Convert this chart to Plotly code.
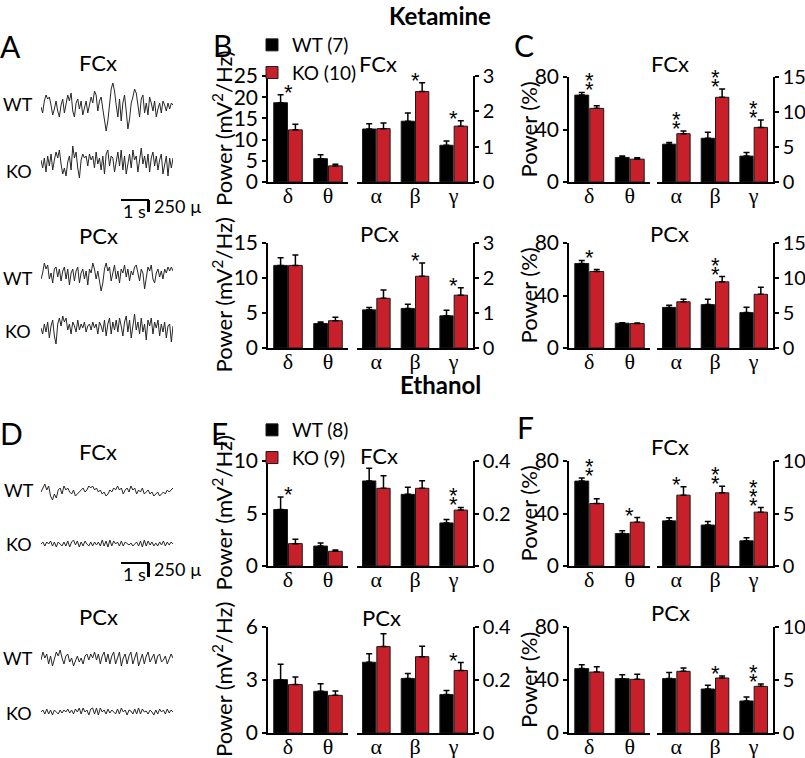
import plotly.graph_objects as go

WIN_W, WIN_H = 805, 758
FW, FH = WIN_W, WIN_H
FONT = "Lato"
RED = "#c8202a"

bands_left = ["δ", "θ"]
bands_right = ["α", "β", "γ"]

# ---------------- bar data: [δ, θ, α, β, γ] ----------------
# Ketamine FCx absolute power (B, top)
ket_fcx_abs_wt = [18.7, 5.5, 1.50, 1.72, 1.04]
ket_fcx_abs_wt_err = [1.9, 0.9, 0.15, 0.23, 0.12]
ket_fcx_abs_ko = [12.3, 3.8, 1.51, 2.56, 1.58]
ket_fcx_abs_ko_err = [1.3, 0.4, 0.16, 0.25, 0.15]
ket_fcx_abs_stars = ["*", "", "", "*", "*"]

# Ketamine PCx absolute power (B, bottom)
ket_pcx_abs_wt = [11.8, 3.5, 1.09, 1.13, 0.92]
ket_pcx_abs_wt_err = [1.1, 0.2, 0.07, 0.12, 0.16]
ket_pcx_abs_ko = [11.8, 3.9, 1.42, 2.05, 1.51]
ket_pcx_abs_ko_err = [1.5, 0.5, 0.24, 0.38, 0.21]
ket_pcx_abs_stars = ["", "", "", "*", "*"]

# Ketamine FCx relative power (C, top)
ket_fcx_rel_wt = [66.2, 18.7, 5.4, 6.25, 3.7]
ket_fcx_rel_wt_err = [2.0, 1.2, 0.25, 0.85, 0.5]
ket_fcx_rel_ko = [56.1, 17.4, 6.9, 12.1, 7.8]
ket_fcx_rel_ko_err = [2.0, 1.0, 0.4, 1.2, 1.05]
ket_fcx_rel_stars = ["**", "", "**", "**", "**"]

# Ketamine PCx relative power (C, bottom)
ket_pcx_rel_wt = [64.4, 18.9, 5.8, 6.2, 5.06]
ket_pcx_rel_wt_err = [2.3, 0.3, 0.3, 0.75, 0.75]
ket_pcx_rel_ko = [58.3, 18.7, 6.6, 9.45, 7.67]
ket_pcx_rel_ko_err = [1.5, 0.3, 0.35, 0.75, 1.0]
ket_pcx_rel_stars = ["*", "", "", "**", ""]

# Ethanol FCx absolute power (E, top)
eth_fcx_abs_wt = [5.38, 1.9, 0.324, 0.273, 0.164]
eth_fcx_abs_wt_err = [1.2, 0.3, 0.048, 0.027, 0.013]
eth_fcx_abs_ko = [2.13, 1.4, 0.296, 0.296, 0.213]
eth_fcx_abs_ko_err = [0.42, 0.13, 0.048, 0.029, 0.01]
eth_fcx_abs_stars = ["*", "", "", "", "**"]

# Ethanol PCx absolute power (E, bottom)
eth_pcx_abs_wt = [3.02, 2.36, 0.267, 0.206, 0.145]
eth_pcx_abs_wt_err = [0.87, 0.43, 0.032, 0.019, 0.015]
eth_pcx_abs_ko = [2.74, 2.13, 0.326, 0.288, 0.236]
eth_pcx_abs_ko_err = [0.43, 0.25, 0.049, 0.039, 0.03]
eth_pcx_abs_stars = ["", "", "", "", "*"]

# Ethanol FCx relative power (F, top)
eth_fcx_rel_wt = [64.7, 24.7, 4.3, 3.9, 2.4]
eth_fcx_rel_wt_err = [2.3, 2.1, 0.3, 0.35, 0.3]
eth_fcx_rel_ko = [47.6, 33.4, 6.75, 6.97, 5.13]
eth_fcx_rel_ko_err = [3.6, 3.5, 0.8, 0.63, 0.44]
eth_fcx_rel_stars = ["**", "*", "*", "**", "***"]

# Ethanol PCx relative power (F, bottom)
eth_pcx_rel_wt = [48.6, 41.0, 5.13, 4.15, 3.02]
eth_pcx_rel_wt_err = [3.0, 3.0, 0.57, 0.35, 0.38]
eth_pcx_rel_ko = [46.0, 40.5, 5.82, 5.19, 4.4]
eth_pcx_rel_ko_err = [4.0, 3.8, 0.31, 0.19, 0.22]
eth_pcx_rel_stars = ["", "", "", "*", "**"]

# ---------------- EEG trace samples (arbitrary units) ----------------
wt_fcx_ket = [0.0, -0.3, 0.3, 0.6, 0.4, 0.5, 0.1, -0.4, -0.1, 0.3,
              -0.2, -0.5, 0.1, 0.4, -0.3, 0.2, 0.6, 0.3, 0.7, -0.2,
              -0.5, 0.2, 0.4, -0.1, 0.3, -0.4, 0.0, 0.3, -0.3, 0.1,
              0.5, 0.2, 0.8, 0.6, -0.2, 0.3, 0.5, -0.1, -0.6, -1.2,
              -0.7, 0.2, 0.9, 1.2, 0.8, 0.1, -0.5, 0.4, -0.7, 0.2,
              0.6, -0.2, -1.1, -0.6, 0.2, 0.5, 0.9, 0.7, 0.1, -0.5,
              0.4, 0.6, -0.3, 0.2, -0.4, 0.5, 0.2, -0.2, 0.3, -0.5,
              -0.1, 0.2, -0.3, 0.3, 0.1, -0.2, 0.2, -0.1, 0.2, 0.1]
ko_fcx_ket = [0.1, -0.3, 0.2, -0.5, 0.3, -0.2, 0.4, -0.4, 0.1, 0.5,
              0.2, 0.6, -0.1, -0.6, -0.3, -0.7, 0.0, 0.3, -0.4, 0.8,
              0.2, 0.5, -0.3, -0.8, 0.1, 0.4, 0.2, 0.3, -0.2, 0.4,
              0.1, 0.3, -0.3, 0.5, -0.1, 0.2, -0.4, 0.3, -0.6, 0.4,
              0.6, -0.2, 0.3, 0.2, -0.5, 0.1, 0.5, -0.2, 0.6, -0.4,
              0.3, -0.6, 0.0, 0.4, -0.3, 0.6, 0.1, 0.3, -0.5, 0.2,
              0.7, -0.1, 0.3, -0.3, 0.4, -0.5, 0.2, 0.5, -0.2, 0.3,
              -0.4, 0.1, 0.4, -0.6, -0.2, 0.3, -0.7, 0.2, -0.3, 0.2]
wt_pcx_ket = [-0.2, 0.1, 0.6, 0.3, 0.5, -0.2, 0.1, -0.4, 0.3, 0.4,
              -0.1, 0.3, -0.3, 0.2, 0.4, -0.2, 0.3, -0.5, 0.1, 0.3,
              -0.3, 0.2, 0.4, -0.4, 0.1, 0.3, -0.2, 0.2, -0.5, 0.3,
              0.1, 0.6, 0.3, -0.2, 0.2, -0.3, -0.8, -0.4, 0.3, 0.6,
              0.2, 0.4, -0.3, 0.1, 0.5, -0.2, 0.2, -0.4, 0.3, 0.1,
              0.5, -0.1, 0.3, -0.3, 0.2, 0.0, 0.4, 0.5, 0.1, -0.3,
              0.3, 0.1, -0.7, -0.2, 0.4, 0.2, 0.5, -0.2, -0.4, 0.1,
              0.3, -0.1, 0.2, -0.2, 0.3, 0.1, 0.4, 0.2, 0.4, 0.2]
ko_pcx_ket = [0.0, -0.3, 0.2, -0.2, 0.3, -0.5, 0.1, 0.4, -0.4, -0.8,
              0.2, 0.5, 0.1, 0.6, 0.3, 0.5, -0.1, 0.2, -0.3, 0.3,
              0.1, -0.2, 0.4, -0.1, 0.2, 0.0, 0.3, -0.2, 0.1, 0.2,
              -0.1, 0.3, 0.0, 0.2, -0.3, 0.3, 0.1, -0.2, 0.4, -0.4,
              0.2, 0.5, -0.3, 0.3, -0.1, 0.4, -0.2, 0.5, 0.1, -0.4,
              0.3, 0.6, -0.2, 0.4, -0.5, 0.2, 0.7, -0.1, 0.3, -0.3,
              0.5, -0.2, 0.2, -0.6, 0.4, 0.1, 0.5, -0.3, 0.3, 0.0,
              0.4, -0.4, 0.2, -0.2, 0.3, -0.5, 0.1, 0.2, -0.7, 0.1]
wt_fcx_eth = [0.0, 0.2, 0.4, 0.1, 0.3, -0.2, -0.4, -0.1, -0.3, 0.1,
              0.2, -0.1, 0.3, 0.1, 0.2, 0.0, -0.1, 0.1, -0.2, -0.1,
              0.0, 0.1, 0.2, 0.0, 0.1, 0.3, 0.2, 0.3, 0.1, 0.2,
              0.0, 0.1, -0.1, 0.0, -0.2, -0.1, 0.1, 0.0, 0.2, 0.1,
              0.3, 0.1, 0.2, -0.1, 0.1, 0.2, 0.0, 0.3, 0.1, 0.2,
              -0.1, 0.1, 0.0, 0.2, -0.1, 0.0, 0.1, -0.1, 0.0, -0.2,
              -0.1, 0.0, -0.2, -0.1, 0.0, -0.1, 0.1, 0.0, 0.1, 0.2]
ko_fcx_eth = [0.0, 0.1, -0.1, 0.1, 0.0, 0.15, -0.1, 0.1, -0.15, 0.1,
              0.0, -0.1, 0.1, -0.1, 0.15, -0.15, 0.1, 0.2, -0.05, 0.15,
              -0.15, 0.1, -0.1, 0.15, 0.0, -0.1, 0.1, -0.1, 0.1, -0.05,
              0.1, -0.1, 0.2, -0.1, 0.15, -0.15, 0.2, -0.1, 0.15, 0.0,
              0.1, -0.1, 0.15, -0.1, 0.1, 0.0, -0.05, 0.05, -0.1, 0.0,
              0.1, -0.1, 0.15, -0.15, 0.2, -0.1, 0.15, -0.05, 0.1, -0.1,
              0.05, -0.1, 0.1, -0.05, 0.15, -0.1, 0.1, -0.05, 0.1, 0.0]
wt_pcx_eth = [0.0, 0.4, 0.1, 0.3, -0.2, 0.2, -0.3, 0.1, 0.4, 0.2,
              0.5, 0.1, -0.2, 0.2, 0.3, -0.1, 0.1, -0.3, 0.0, 0.2,
              -0.1, 0.1, -0.2, 0.2, 0.3, 0.0, 0.3, 0.1, 0.4, 0.0,
              0.3, -0.2, 0.2, 0.4, -0.1, 0.3, -0.2, 0.2, 0.4, -0.2,
              0.1, 0.4, -0.3, 0.1, 0.3, -0.2, 0.2, 0.4, -0.2, 0.1,
              0.4, -0.3, 0.0, 0.3, -0.2, 0.2, 0.4, -0.1, 0.1, 0.3,
              -0.2, 0.2, 0.3, -0.1, 0.0, 0.2, -0.2, 0.1, 0.3, 0.1]
ko_pcx_eth = [0.0, 0.1, -0.1, 0.15, -0.1, 0.1, -0.15, 0.1, 0.0, -0.1,
              0.1, -0.05, 0.1, 0.0, 0.15, -0.05, 0.1, -0.1, 0.15, 0.0,
              0.2, -0.1, 0.2, 0.0, 0.1, -0.15, 0.15, 0.2, -0.1, 0.2,
              -0.15, 0.2, 0.0, 0.1, -0.1, 0.15, -0.05, 0.1, 0.0, -0.1,
              0.15, -0.1, 0.2, 0.0, 0.1, -0.15, 0.1, 0.05, -0.1, 0.15,
              -0.1, 0.2, -0.1, 0.15, 0.0, 0.05, -0.1, 0.1, 0.0, -0.15,
              0.1, -0.1, 0.15, 0.0, 0.1, -0.1, 0.15, -0.05, 0.1, 0.0]


def px(x):
    return x / FW


def py(y):
    return 1 - y / FH


fig = go.Figure()
layout = {}
annotations = []
shapes = []
axis_counter = [0]


def new_axes():
    axis_counter[0] += 1
    i = axis_counter[0]
    return i, ("" if i == 1 else str(i))


def txt(x, y, t, size=18, bold=False, xanchor="center", family=FONT, angle=0):
    annotations.append(dict(x=px(x), y=py(y), xref="paper", yref="paper", text=t,
                            showarrow=False, xanchor=xanchor, yanchor="middle",
                            textangle=angle,
                            font=dict(family=family, size=size, color="black",
                                      weight="bold" if bold else "normal")))


def add_bar_panel(x0, x1, x2, x3, ytop, ybot, lrange, rrange, ltick, rtick, ytitle, title_x,
                  wt, wt_err, ko, ko_err, stars, legend=None, legend_names=None):
    groups = [(x0, x1, bands_left, slice(0, 2), lrange, ltick, "left"),
              (x2, x3, bands_right, slice(2, 5), rrange, rtick, "right")]
    for (a, b, cats, sl, yr, tk, side) in groups:
        i, s = new_axes()
        xa, ya = "x" + s, "y" + s
        layout["xaxis" + s] = dict(domain=[px(a), px(b)], anchor=ya, showline=True,
                                   linecolor="black", linewidth=1.5, ticks="",
                                   showgrid=False, zeroline=False, fixedrange=True,
                                   automargin=False, ticklabelstandoff=-7,
                                   tickfont=dict(family="Liberation Serif", size=22, color="black"))
        layout["yaxis" + s] = dict(domain=[py(ybot), py(ytop)], anchor=xa, range=yr, tickvals=tk,
                                   showline=True, linecolor="black", linewidth=1.5,
                                   ticks="outside", ticklen=4, tickwidth=1.5, tickcolor="black",
                                   showgrid=False, zeroline=False, side=side, fixedrange=True,
                                   automargin=False,
                                   tickfont=dict(family=FONT, size=21 if side == "left" else 20,
                                                 color="black"))
        for name, vals, errs, col, idx in [("WT", wt, wt_err, "black", 0),
                                           ("KO", ko, ko_err, RED, 1)]:
            tr = go.Bar(x=cats, y=vals[sl], xaxis=xa, yaxis=ya, marker=dict(color=col,
                        line=dict(color="#1a1a1a", width=1)),
                        error_y=dict(type="data", array=errs[sl], arrayminus=[0] * len(cats),
                                     symmetric=False, color="black", thickness=1.5, width=3),
                        showlegend=False, name=name)
            if legend and side == "left":
                tr.update(showlegend=True, legend=legend, name=legend_names[idx])
            fig.add_trace(tr)
        for c, v1, e1, v2, e2, st in zip(cats, wt[sl], wt_err[sl], ko[sl], ko_err[sl], stars[sl]):
            top = max(v1 + e1, v2 + e2)
            for k in range(len(st)):
                annotations.append(dict(x=c, y=top, xref=xa, yref=ya, text="*", showarrow=False,
                                        yanchor="bottom", yshift=-12 + 9 * k,
                                        font=dict(family="Liberation Sans", size=22,
                                                  color="black")))
    txt(title_x, (ytop + ybot) / 2, ytitle, 22, angle=-90)


Y_ABS = "Power (mV<sup>2</sup>/Hz)"
Y_REL = "Power (%)"
BX = (268, 348, 357, 473)
CX = (569, 650, 657, 773)
BT, CT = 222, 528

add_bar_panel(*BX, 76, 182, [0, 25], [0, 3], [0, 5, 10, 15, 20, 25], [0, 1, 2, 3], Y_ABS, BT,
              ket_fcx_abs_wt, ket_fcx_abs_wt_err, ket_fcx_abs_ko, ket_fcx_abs_ko_err,
              ket_fcx_abs_stars, legend="legend", legend_names=["WT (7)", "KO (10)"])
add_bar_panel(*BX, 243, 348, [0, 15], [0, 3], [0, 5, 10, 15], [0, 1, 2, 3], Y_ABS, BT,
              ket_pcx_abs_wt, ket_pcx_abs_wt_err, ket_pcx_abs_ko, ket_pcx_abs_ko_err,
              ket_pcx_abs_stars)
add_bar_panel(*CX, 77, 182, [0, 80], [0, 15], [0, 40, 80], [0, 5, 10, 15], Y_REL, CT,
              ket_fcx_rel_wt, ket_fcx_rel_wt_err, ket_fcx_rel_ko, ket_fcx_rel_ko_err,
              ket_fcx_rel_stars)
add_bar_panel(*CX, 243, 348, [0, 80], [0, 15], [0, 40, 80], [0, 5, 10, 15], Y_REL, CT,
              ket_pcx_rel_wt, ket_pcx_rel_wt_err, ket_pcx_rel_ko, ket_pcx_rel_ko_err,
              ket_pcx_rel_stars)
add_bar_panel(*BX, 461, 566, [0, 10], [0, 0.4], [0, 5, 10], [0, 0.2, 0.4], Y_ABS, BT,
              eth_fcx_abs_wt, eth_fcx_abs_wt_err, eth_fcx_abs_ko, eth_fcx_abs_ko_err,
              eth_fcx_abs_stars, legend="legend2", legend_names=["WT (8)", "KO (9)"])
add_bar_panel(*BX, 627, 733, [0, 6], [0, 0.4], [0, 3, 6], [0, 0.2, 0.4], Y_ABS, BT,
              eth_pcx_abs_wt, eth_pcx_abs_wt_err, eth_pcx_abs_ko, eth_pcx_abs_ko_err,
              eth_pcx_abs_stars)
add_bar_panel(*CX, 461, 566, [0, 80], [0, 10], [0, 40, 80], [0, 5, 10], Y_REL, CT,
              eth_fcx_rel_wt, eth_fcx_rel_wt_err, eth_fcx_rel_ko, eth_fcx_rel_ko_err,
              eth_fcx_rel_stars)
add_bar_panel(*CX, 627, 733, [0, 80], [0, 10], [0, 40, 80], [0, 5, 10], Y_REL, CT,
              eth_pcx_rel_wt, eth_pcx_rel_wt_err, eth_pcx_rel_ko, eth_pcx_rel_ko_err,
              eth_pcx_rel_stars)


# ---------------- EEG traces ----------------
def add_trace_panel(vals, yc):
    i, s = new_axes()
    xa, ya = "x" + s, "y" + s
    layout["xaxis" + s] = dict(domain=[px(41), px(173)], anchor=ya, visible=False,
                               range=[0, len(vals) - 1], fixedrange=True, automargin=False)
    layout["yaxis" + s] = dict(domain=[py(yc + 30), py(yc - 30)], anchor=xa, visible=False,
                               range=[-1.5, 1.5], fixedrange=True, automargin=False)
    fig.add_trace(go.Scatter(x=list(range(len(vals))), y=vals, xaxis=xa, yaxis=ya,
                             mode="lines", line=dict(color="#262626", width=1),
                             showlegend=False, hoverinfo="skip"))


add_trace_panel(wt_fcx_ket, 107)
add_trace_panel(ko_fcx_ket, 162)
add_trace_panel(wt_pcx_ket, 275)
add_trace_panel(ko_pcx_ket, 328)
add_trace_panel(wt_fcx_eth, 492)
add_trace_panel(ko_fcx_eth, 544)
add_trace_panel(wt_pcx_eth, 660)
add_trace_panel(ko_pcx_eth, 712)

# ---------------- text ----------------
txt(440, 15, "Ketamine", 24, bold=True)
txt(440, 384, "Ethanol", 24, bold=True)
for letter, x, y in [("A", 10, 46), ("B", 222, 45), ("C", 524, 45),
                     ("D", 11, 433), ("E", 219, 433), ("F", 525, 427)]:
    txt(x, y, letter, 30)
for t, x, y in [("FCx", 378, 63), ("PCx", 379, 233), ("FCx", 670, 64), ("PCx", 669, 233),
                ("FCx", 379, 455), ("FCx", 670, 446), ("PCx", 381, 617), ("PCx", 670, 612),
                ("FCx", 98, 62), ("PCx", 98, 236), ("FCx", 98, 451), ("PCx", 98, 616)]:
    txt(x, y, t, 22)
for t, x, y in [("WT", 18, 104), ("KO", 19, 171), ("WT", 18, 278), ("KO", 18, 331),
                ("WT", 19, 490), ("KO", 19, 544), ("WT", 18, 658), ("KO", 19, 713)]:
    txt(x, y, t, 18)

# scale bars
for ybar, yv in [(200, 212), (563, 577)]:
    shapes.append(dict(type="line", xref="paper", yref="paper", x0=px(121), x1=px(149),
                       y0=py(ybar), y1=py(ybar), line=dict(color="black", width=2)))
    shapes.append(dict(type="line", xref="paper", yref="paper", x0=px(148.5), x1=px(148.5),
                       y0=py(ybar), y1=py(yv), line=dict(color="black", width=3)))
    txt(121, ybar + 11, "1 s", 18, xanchor="left")
    txt(152, ybar + 6, "250 µ", 18, xanchor="left")

legend_common = dict(font=dict(family=FONT, size=19, color="black"), bgcolor="rgba(0,0,0,0)",
                     itemwidth=30, tracegroupgap=0, xanchor="left", yanchor="top",
                     orientation="v", borderwidth=0)
layout["legend"] = dict(x=px(252), y=py(26), **legend_common)
layout["legend2"] = dict(x=px(252), y=py(411), **legend_common)

fig.update_layout(**layout)
fig.update_layout(width=FW, height=FH, margin=dict(l=0, r=0, t=0, b=0, autoexpand=False),
                  paper_bgcolor="white", plot_bgcolor="rgba(0,0,0,0)",
                  barmode="group", bargap=0.26, bargroupgap=0.07,
                  annotations=annotations, shapes=shapes,
                  font=dict(family=FONT, color="black"))
# remove the browser's default 8 px body margin so the figure fills the window
fig.write_html("out.html", config={"displayModeBar": False},
               post_script="document.body.style.margin='0';document.body.style.overflow='hidden';")
